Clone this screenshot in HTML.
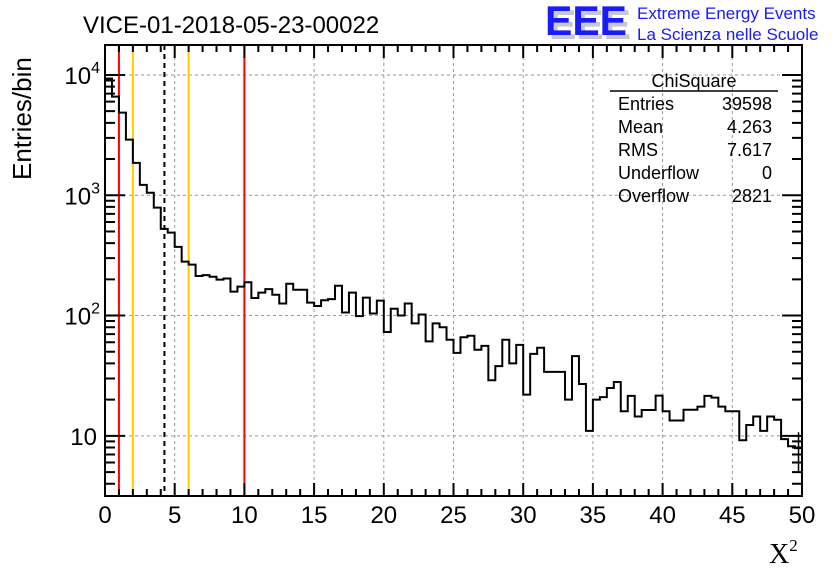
<!DOCTYPE html>
<html><head><meta charset="utf-8"><style>
html,body{margin:0;padding:0;background:#fff;}
svg{display:block;font-family:"Liberation Sans",sans-serif;}
</style></head><body>
<svg id="c" width="836" height="572" viewBox="0 0 836 572">
<rect width="836" height="572" fill="#fff"/>
<text x="83" y="33" font-size="24">VICE-01-2018-05-23-00022</text>
<g>
<text x="549" y="39" font-size="42" font-weight="bold" fill="#c8c8c8" textLength="82" lengthAdjust="spacingAndGlyphs">EEE</text>
<text x="545" y="35" font-size="42" font-weight="bold" fill="#1a1aff" textLength="82" lengthAdjust="spacingAndGlyphs">EEE</text>
<text x="637" y="19" font-size="17" fill="#1a1aff">Extreme Energy Events</text>
<text x="637" y="40" font-size="17" fill="#1a1aff">La Scienza nelle Scuole</text>
</g>
<g id="grid"></g>
<g id="lines"></g>
<g id="hist"></g>
<g id="axes"></g>
<text transform="translate(31,180) rotate(-90)" font-size="26">Entries/bin</text>
<text x="769" y="563" font-size="28" font-family="Liberation Serif,serif">X<tspan font-size="17" dy="-12">2</tspan></text>
<g font-size="18">
<text x="694" y="87" text-anchor="middle">ChiSquare</text>
<line x1="610" y1="91" x2="778" y2="91" stroke="#000" stroke-width="1.5"/>
<text x="618" y="110">Entries</text><text x="772" y="110" text-anchor="end">39598</text>
<text x="618" y="133">Mean</text><text x="772" y="133" text-anchor="end">4.263</text>
<text x="618" y="156">RMS</text><text x="772" y="156" text-anchor="end">7.617</text>
<text x="618" y="179">Underflow</text><text x="772" y="179" text-anchor="end">0</text>
<text x="618" y="202">Overflow</text><text x="772" y="202" text-anchor="end">2821</text>
</g>
</svg>
<script>
const binWidth = 0.5;
const counts = [9350,6600,4860,2900,1860,1220,1050,789,525,489,
372,281,265,213,217,210,199,203,158,174,
189,140,155,166,149,126,184,164,164,128,
120,134,137,177,106,155,99,141,104,133,
73,114,100,126,86,102,61,86,80,63,
49,66,68,52,56,29,38,63,40,57,
22,48,54,34,34,34,20,46,27,11,
20,21,25,28,16,21.5,14.5,16.4,16.4,21.6,
16,13.4,13.4,16.5,16.5,17.5,21.5,20.8,17.5,16,
16,9.2,12.3,14.5,11,14.5,13.6,9.4,8.2,7.9];
const xTicks = [0,5,10,15,20,25,30,35,40,45,50];
const yDecades = [1,2,3,4];
const yExps = ["","2","3","4"];
const redLines = [1,10];
const orangeLines = [2,6];
const meanLine = [4.263];

const X0=105,X1=802,Y0=45,Y1=496,XMIN=0,XMAX=50;
const LTOP=4.249, LBOT=0.5;
const sx=v=>X0+(v-XMIN)/(XMAX-XMIN)*(X1-X0);
const sy=v=>Y0+(LTOP-Math.log10(v))/(LTOP-LBOT)*(Y1-Y0);
const NS="http://www.w3.org/2000/svg";
function mk(tag,parent,attrs){const e=document.createElementNS(NS,tag);for(const k in attrs)e.setAttribute(k,attrs[k]);parent.appendChild(e);return e;}
const grid=document.getElementById('grid'),axes=document.getElementById('axes'),lines=document.getElementById('lines'),hist=document.getElementById('hist');

xTicks.forEach(t=>{if(t>XMIN&&t<XMAX){const l=mk('line',grid,{x1:sx(t),x2:sx(t),y1:Y0,y2:Y1,stroke:'#999','stroke-dasharray':'3,3','stroke-width':1});

}});
yDecades.forEach(d=>{const y=sy(Math.pow(10,d));const l=mk('line',grid,{x1:X0,x2:X1,y1:y,y2:y,stroke:'#999','stroke-dasharray':'3,3','stroke-width':1});

});

function vline(v,color,dash,name){const a={x1:sx(v),x2:sx(v),y1:Y0,y2:Y1,stroke:color,'stroke-width':2};if(dash)a['stroke-dasharray']=dash;const l=mk('line',lines,a);

}
redLines.forEach(v=>vline(v,'#f00',null,'red-cut-line'));
orangeLines.forEach(v=>vline(v,'#fc0',null,'orange-cut-line'));
meanLine.forEach(v=>vline(v,'#000','5,4','mean-line'));

let d='';
counts.forEach((c,i)=>{const xa=sx(i*binWidth),xb=sx((i+1)*binWidth),y=sy(c);d+=(i===0?'M'+xa+','+y:'L'+xa+','+y)+'L'+xb+','+y;});
const p=mk('path',hist,{d:d,fill:'none',stroke:'#000','stroke-width':2});


const lastX=sx((counts.length-0.5)*binWidth),lc=counts[counts.length-1];
const eb=mk('line',hist,{x1:lastX,x2:lastX,y1:sy(lc+Math.sqrt(lc)),y2:sy(Math.max(lc-Math.sqrt(lc),3.3)),stroke:'#000','stroke-width':1.5});



const fr=mk('rect',axes,{x:X0,y:Y0,width:X1-X0,height:Y1-Y0,fill:'none',stroke:'#000','stroke-width':2});


let td='';
for(let v=XMIN;v<=XMAX;v+=1){const x=sx(v),L=(v%5===0)?13:7;td+=`M${x},${Y1}V${Y1-L}M${x},${Y0}V${Y0+L}`;}
for(let d0=0;d0<=4;d0++){for(let m=1;m<10;m++){const v=m*Math.pow(10,d0);const lv=Math.log10(v);if(lv<LBOT||lv>LTOP)continue;const y=sy(v),L=(m===1)?20:10;td+=`M${X0},${y}H${X0+L}M${X1},${y}H${X1-L}`;}}
const tk=mk('path',axes,{d:td,stroke:'#000','stroke-width':2,fill:'none'});


xTicks.forEach(t=>{const tx=mk('text',axes,{x:sx(t),y:523,'font-size':24,'text-anchor':'middle'});tx.textContent=t;

});
yDecades.forEach((dd,i)=>{const y=sy(Math.pow(10,dd));const tx=mk('text',axes,{x:(yExps[i]?100:97),y:y+9,'font-size':24,'text-anchor':'end'});


tx.appendChild(document.createTextNode('10'));
if(yExps[i]){const ts=mk('tspan',tx,{'font-size':16,dy:-11});ts.textContent=yExps[i];}});
</script>
</body></html>
